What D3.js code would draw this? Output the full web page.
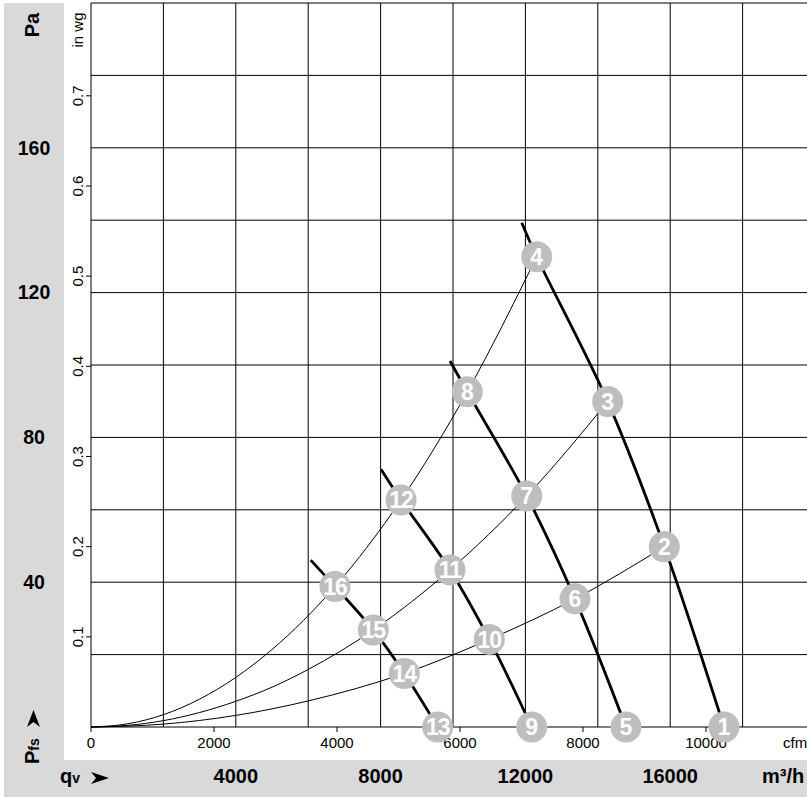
<!DOCTYPE html>
<html>
<head>
<meta charset="utf-8">
<script src="https://cdn.jsdelivr.net/npm/d3@7"></script>
<style>
  body { margin: 0; background: #fff; }
  svg { display: block; font-family: "Liberation Sans", Arial, sans-serif; }
</style>
</head>
<body>
<div id="chart-container"></div>
<script>
// ticks
const paTicks = [40, 80, 120, 160];
const inwgTicks = [0.1, 0.2, 0.3, 0.4, 0.5, 0.6, 0.7];
const cfmTicks = [0, 2000, 4000, 6000, 8000, 10000];
const m3hTicks = [4000, 8000, 12000, 16000];

// fan curves [m3/h, Pa]
const fanA = [[11898, 139.3], [12312, 129.9], [14273, 89.9], [15837, 49.8], [17486, 0]];
const fanB = [[9917, 101.1], [10395, 92.6], [12036, 63.8], [13370, 35.4], [14779, 0]];
const fanC = [[8011, 71.2], [8564, 62.7], [9917, 43.4], [11003, 24.2], [12174, 0]];
const fanD = [[6069, 46.1], [6740, 38.8], [7798, 26.8], [8655, 14.8], [9577, 0]];

// system curves [m3/h, Pa]
const sysA = [[0, 0], [1000, 0.86], [2000, 3.4], [3000, 7.7], [4000, 13.7], [5000, 21.4],
  [6740, 38.8], [8564, 62.7], [10395, 92.6], [12312, 129.9]];
const sysB = [[0, 0], [1000, 0.44], [2000, 1.76], [3000, 4.0], [4000, 7.1], [5000, 11.0],
  [6000, 15.9], [7798, 26.8], [9917, 43.4], [12036, 63.8], [14273, 89.9]];
const sysC = [[0, 0], [2000, 0.8], [4000, 3.2], [6000, 7.2], [8655, 14.8], [11003, 24.2],
  [13370, 35.4], [15837, 49.8]];

// operating points
const pointIds = [1, 2, 3, 4, 5, 6, 7, 8, 9, 10, 11, 12, 13, 14, 15, 16];
const pointQ = [17486, 15837, 14273, 12312, 14779, 13370, 12036, 10395, 12174, 11003, 9917, 8564, 9577, 8655, 7798, 6740];
const pointP = [0, 49.8, 89.9, 129.9, 0, 35.4, 63.8, 92.6, 0, 24.2, 43.4, 62.7, 0, 14.8, 26.8, 38.8];

const W = 807, H = 797;
const x = d3.scaleLinear().domain([0, 2000]).range([91, 163.4]);
const y = d3.scaleLinear().domain([0, 200]).range([727, 3]);
const PA_PER_INWG = 249.089;
const M3H_PER_CFM = 1.699;

const svg = d3.select("#chart-container").append("svg")
  .attr("width", W).attr("height", H);

// gray bands
svg.append("rect").attr("x", 4).attr("y", 3).attr("width", 60).attr("height", H - 3).attr("fill", "#d9d9d9");
svg.append("rect").attr("x", 4).attr("y", 760).attr("width", W - 4).attr("height", H - 760).attr("fill", "#d9d9d9");

// grid
const grid = svg.append("g").attr("stroke", "#000").attr("stroke-width", 1);
grid.selectAll("line.h")
  .data(d3.range(0, 201, 20))
  .join("line")
  .attr("x1", x(0)).attr("x2", W)
  .attr("y1", d => y(d)).attr("y2", d => y(d));
grid.selectAll("line.v")
  .data(d3.range(0, 20001, 2000))
  .join("line")
  .attr("x1", d => x(d)).attr("x2", d => x(d))
  .attr("y1", y(200)).attr("y2", y(0));

// in wg axis
const inwg = svg.append("g");
inwg.selectAll("line")
  .data(inwgTicks)
  .join("line")
  .attr("x1", x(0) - 5).attr("x2", x(0))
  .attr("y1", d => y(d * PA_PER_INWG)).attr("y2", d => y(d * PA_PER_INWG))
  .attr("stroke", "#000");
inwg.selectAll("text")
  .data(inwgTicks)
  .join("text")
  .attr("transform", d => `translate(83,${y(d * PA_PER_INWG)}) rotate(-90)`)
  .attr("text-anchor", "middle")
  .attr("font-size", 15)
  .text(d => d3.format(".1f")(d));
svg.append("text")
  .attr("transform", "translate(83,30) rotate(-90)")
  .attr("text-anchor", "middle")
  .attr("font-size", 15)
  .text("in wg");

// Pa labels
svg.selectAll("text.pa")
  .data(paTicks)
  .join("text")
  .attr("class", "pa")
  .attr("x", 34).attr("y", d => y(d))
  .attr("dy", "0.35em")
  .attr("text-anchor", "middle")
  .attr("font-size", 19.5).attr("font-weight", "bold")
  .text(d => d);
svg.append("text")
  .attr("transform", "translate(39,25) rotate(-90)")
  .attr("text-anchor", "middle")
  .attr("font-size", 20).attr("font-weight", "bold")
  .text("Pa");

// cfm axis
const cfm = svg.append("g");
cfm.selectAll("line")
  .data(cfmTicks)
  .join("line")
  .attr("x1", d => x(d * M3H_PER_CFM)).attr("x2", d => x(d * M3H_PER_CFM))
  .attr("y1", y(0)).attr("y2", y(0) + 5)
  .attr("stroke", "#000");
cfm.selectAll("text")
  .data(cfmTicks)
  .join("text")
  .attr("x", d => x(d * M3H_PER_CFM)).attr("y", 748)
  .attr("text-anchor", "middle")
  .attr("font-size", 15)
  .text(d => d);
svg.append("text").attr("x", 783).attr("y", 748).attr("font-size", 15).text("cfm");

// m3/h labels
svg.selectAll("text.m3h")
  .data(m3hTicks)
  .join("text")
  .attr("class", "m3h")
  .attr("x", d => x(d)).attr("y", 783)
  .attr("text-anchor", "middle")
  .attr("font-size", 20).attr("font-weight", "bold")
  .text(d => d);
svg.append("text").attr("x", 762).attr("y", 783)
  .attr("font-size", 20).attr("font-weight", "bold").text("m³/h");

// qv label + arrow
const qv = svg.append("text").attr("x", 60).attr("y", 783).attr("font-weight", "bold");
qv.append("tspan").attr("font-size", 20).text("q");
qv.append("tspan").attr("font-size", 14).text("v");
svg.append("path")
  .attr("transform", "translate(91,778)")
  .attr("d", "M0,-6 L18,0 L0,6 L5,0 Z")
  .attr("fill", "#000");

// Pfs label + arrow
const pfs = svg.append("text").attr("transform", "translate(39,764) rotate(-90)").attr("font-weight", "bold");
pfs.append("tspan").attr("font-size", 20).text("P");
pfs.append("tspan").attr("font-size", 14).text("fs");
svg.append("path")
  .attr("transform", "translate(33.5,710)")
  .attr("d", "M0,0 L6.5,17 L0,12 L-6.5,17 Z")
  .attr("fill", "#000");

// curves
const curves = svg.append("g").attr("fill", "none").attr("stroke", "#000");
[sysA, sysB, sysC].forEach(s => {
  curves.append("path").attr("d", d3.line().x(d => x(d[0])).y(d => y(d[1])).curve(d3.curveMonotoneX)(s))
    .attr("stroke-width", 1);
});
[fanA, fanB, fanC, fanD].forEach(f => {
  curves.append("path").attr("d", d3.line().x(d => x(d[0])).y(d => y(d[1])).curve(d3.curveCatmullRom)(f))
    .attr("stroke-width", 2.8);
});

// points
const pts = svg.append("g").selectAll("g")
  .data(pointIds.map((id, i) => ({ id, q: pointQ[i], p: pointP[i] })))
  .join("g")
  .attr("transform", d => `translate(${x(d.q)},${y(d.p)})`);
pts.append("circle").attr("r", 15.5).attr("fill", "#bebebe");
pts.append("text")
  .attr("text-anchor", "middle").attr("dy", "0.36em")
  .attr("font-size", 23).attr("font-weight", "bold").attr("fill", "#fff")
  .attr("letter-spacing", d => d.id > 9 ? -1 : 0)
  .text(d => d.id);
</script>
</body>
</html>
